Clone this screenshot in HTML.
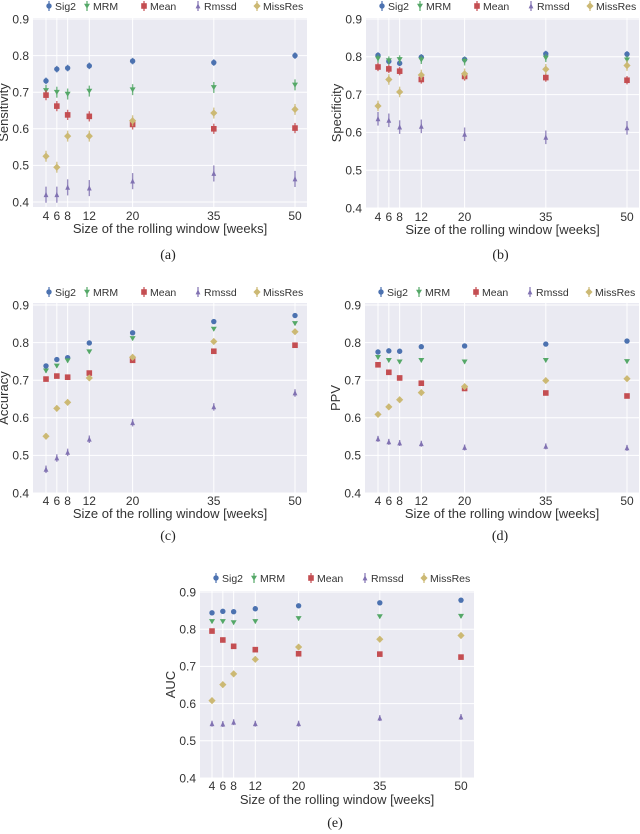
<!DOCTYPE html>
<html><head><meta charset="utf-8">
<style>
html,body{margin:0;padding:0;background:#fff;}
svg{display:block;font-family:"Liberation Sans",sans-serif;}
</style></head>
<body>
<svg id="fig" width="640" height="834" viewBox="0 0 640 834" xmlns="http://www.w3.org/2000/svg"></svg>
<script>
const windows = [4, 6, 8, 12, 20, 35, 50];
const seriesNames = ["Sig2", "MRM", "Mean", "Rmssd", "MissRes"];
const yTicks = [0.4, 0.5, 0.6, 0.7, 0.8, 0.9];
const yTickLabels = ["0.4", "0.5", "0.6", "0.7", "0.8", "0.9"];

const sensSig2 = [0.731, 0.763, 0.766, 0.772, 0.785, 0.781, 0.800];
const sensMRM = [0.705, 0.700, 0.695, 0.703, 0.707, 0.713, 0.720];
const sensMean = [0.692, 0.662, 0.638, 0.634, 0.612, 0.600, 0.602];
const sensRmssd = [0.420, 0.420, 0.440, 0.438, 0.457, 0.478, 0.463];
const sensMissRes = [0.525, 0.495, 0.580, 0.580, 0.622, 0.643, 0.653];
const sensErr = [0.009, 0.015, 0.014, 0.022, 0.015];

const specSig2 = [0.804, 0.788, 0.783, 0.799, 0.793, 0.808, 0.807];
const specMRM = [0.795, 0.790, 0.793, 0.792, 0.788, 0.797, 0.792];
const specMean = [0.773, 0.768, 0.762, 0.740, 0.748, 0.745, 0.738];
const specRmssd = [0.636, 0.632, 0.614, 0.616, 0.595, 0.587, 0.612];
const specMissRes = [0.670, 0.740, 0.707, 0.752, 0.755, 0.767, 0.777];
const specErr = [0.008, 0.011, 0.011, 0.018, 0.014];

const accSig2 = [0.738, 0.755, 0.760, 0.799, 0.826, 0.856, 0.872];
const accMRM = [0.725, 0.738, 0.752, 0.776, 0.811, 0.836, 0.851];
const accMean = [0.703, 0.711, 0.708, 0.719, 0.753, 0.777, 0.793];
const accRmssd = [0.463, 0.493, 0.508, 0.543, 0.587, 0.629, 0.666];
const accMissRes = [0.551, 0.625, 0.641, 0.706, 0.761, 0.803, 0.829];
const accErr = [0.004, 0.005, 0.006, 0.010, 0.005];

const ppvSig2 = [0.775, 0.778, 0.777, 0.789, 0.791, 0.796, 0.804];
const ppvMRM = [0.761, 0.753, 0.749, 0.753, 0.749, 0.753, 0.750];
const ppvMean = [0.741, 0.721, 0.706, 0.692, 0.678, 0.666, 0.658];
const ppvRmssd = [0.544, 0.536, 0.533, 0.531, 0.521, 0.524, 0.520];
const ppvMissRes = [0.609, 0.629, 0.648, 0.667, 0.683, 0.699, 0.704];
const ppvErr = [0.004, 0.005, 0.006, 0.008, 0.005];

const aucSig2 = [0.844, 0.848, 0.847, 0.855, 0.863, 0.871, 0.878];
const aucMRM = [0.821, 0.821, 0.818, 0.821, 0.829, 0.834, 0.835];
const aucMean = [0.795, 0.771, 0.754, 0.745, 0.734, 0.733, 0.725];
const aucRmssd = [0.546, 0.545, 0.550, 0.546, 0.546, 0.561, 0.564];
const aucMissRes = [0.608, 0.651, 0.680, 0.719, 0.752, 0.773, 0.783];
const aucErr = [0.004, 0.005, 0.006, 0.008, 0.005];

const colors = ["#4C72B0", "#55A868", "#C44E52", "#8172B2", "#CCB974"];
const NS = "http://www.w3.org/2000/svg";
const svg = document.getElementById("fig");
function mk(tag, attrs, parent) {
  const e = document.createElementNS(NS, tag);
  for (const k in attrs) e.setAttribute(k, attrs[k]);
  (parent || svg).appendChild(e);
  return e;
}
function marker(g, kind, cx, cy, color) {
  let e;
  if (kind === 0) e = mk("circle", {cx: cx, cy: cy, r: 2.7, fill: color}, g);
  else if (kind === 1) e = mk("polygon", {points: `${cx-3},${cy-2.3} ${cx+3},${cy-2.3} ${cx},${cy+2.7}`, fill: color}, g);
  else if (kind === 2) e = mk("rect", {x: cx-2.8, y: cy-2.8, width: 5.6, height: 5.6, fill: color}, g);
  else if (kind === 3) e = mk("polygon", {points: `${cx-2.4},${cy+2.4} ${cx+2.4},${cy+2.4} ${cx},${cy-2.8}`, fill: color}, g);
  else e = mk("polygon", {points: `${cx},${cy-3.6} ${cx+3.6},${cy} ${cx},${cy+3.6} ${cx-3.6},${cy}`, fill: color}, g);
  return e;
}

const panels = [
  {id: "sensitivity", label: "Sensitivity", cap: "(a)", data: [sensSig2, sensMRM, sensMean, sensRmssd, sensMissRes], err: sensErr,
   left: 33, right: 307, x4: 46, x50: 295, top: 18, bottom: 207, y9: 19, y4: 202, legY: 6, tickY: 220, xlabY: 233, capY: 259},
  {id: "specificity", label: "Specificity", cap: "(b)", data: [specSig2, specMRM, specMean, specRmssd, specMissRes], err: specErr,
   left: 366, right: 639, x4: 378, x50: 627, top: 18, bottom: 208, y9: 19, y4: 208, legY: 6, tickY: 221, xlabY: 234, capY: 259},
  {id: "accuracy", label: "Accuracy", cap: "(c)", data: [accSig2, accMRM, accMean, accRmssd, accMissRes], err: accErr,
   left: 33, right: 307, x4: 46, x50: 295, top: 303, bottom: 493, y9: 305, y4: 493, legY: 292, tickY: 505, xlabY: 518, capY: 540},
  {id: "ppv", label: "PPV", cap: "(d)", data: [ppvSig2, ppvMRM, ppvMean, ppvRmssd, ppvMissRes], err: ppvErr,
   left: 365, right: 639, x4: 378, x50: 627, top: 303, bottom: 493, y9: 305, y4: 493, legY: 292, tickY: 505, xlabY: 518, capY: 540},
  {id: "auc", label: "AUC", cap: "(e)", data: [aucSig2, aucMRM, aucMean, aucRmssd, aucMissRes], err: aucErr,
   left: 200, right: 474, x4: 212, x50: 461, top: 591, bottom: 778, y9: 592, y4: 778, legY: 578, tickY: 790, xlabY: 804, capY: 827}
];
const legOffsets = [16, 54, 111, 165, 224];

panels.forEach(p => {
  const g = mk("g", {});
  
  
  const xs = v => p.x4 + (v - 4) * (p.x50 - p.x4) / 46;
  const ys = v => p.y4 - (v - 0.4) * (p.y4 - p.y9) / 0.5;
  const bg = mk("rect", {x: p.left, y: p.top, width: p.right - p.left, height: p.bottom - p.top, fill: "#EAEAF2"}, g);
  
  
  yTicks.forEach((t, i) => {
    const y = ys(t);
    mk("line", {x1: p.left, x2: p.right, y1: y, y2: y, stroke: "#fff", "stroke-width": 1}, g);
    const tl = mk("text", {x: p.left - 4, y: y + 4.3, "text-anchor": "end", "font-size": 12, fill: "#333"}, g);
    tl.textContent = yTickLabels[i];
    
    
  });
  windows.forEach(w => {
    const x = xs(w);
    mk("line", {x1: x, x2: x, y1: p.top, y2: p.bottom, stroke: "#fff", "stroke-width": 1}, g);
    const tl = mk("text", {x: x, y: p.tickY, "text-anchor": "middle", "font-size": 12, fill: "#333"}, g);
    tl.textContent = String(w);
    
    
  });
  p.data.forEach((vals, si) => {
    const sg = mk("g", {}, g);
    
    
    vals.forEach((v, i) => {
      const x = xs(windows[i]), y = ys(v), e = p.err[si];
      mk("line", {x1: x, x2: x, y1: ys(v - e), y2: ys(v + e), stroke: colors[si], "stroke-width": 1.4, opacity: 0.8}, sg);
      const m = marker(sg, si, x, y, colors[si]);
      
      
    });
  });
  const leg = mk("g", {}, g);
  
  
  seriesNames.forEach((n, si) => {
    const lx = p.left + legOffsets[si];
    const le = mk("g", {}, leg);
    
    
    mk("line", {x1: lx, x2: lx, y1: p.legY - 5, y2: p.legY + 5, stroke: colors[si], "stroke-width": 1.2}, le);
    marker(le, si, lx, p.legY, colors[si]);
    const t = mk("text", {x: lx + 6, y: p.legY + 4, "font-size": 10.5, fill: "#333"}, le);
    t.textContent = n;
  });
  const xl = mk("text", {x: (p.left + p.right) / 2, y: p.xlabY, "text-anchor": "middle", "font-size": 13, fill: "#333"}, g);
  xl.textContent = "Size of the rolling window [weeks]";
  
  
  const cy = (p.top + p.bottom) / 2;
  const yl = mk("text", {x: p.left - 25, y: cy, "text-anchor": "middle", "font-size": 13, fill: "#333", transform: `rotate(-90 ${p.left - 25} ${cy})`}, g);
  yl.textContent = p.label;
  
  
  const cap = mk("text", {x: (p.left + p.right) / 2 - 2, y: p.capY, "text-anchor": "middle", "font-size": 14, fill: "#222", "font-family": "Liberation Serif, serif"}, g);
  cap.textContent = p.cap;
  
  
});
</script>
</body></html>
